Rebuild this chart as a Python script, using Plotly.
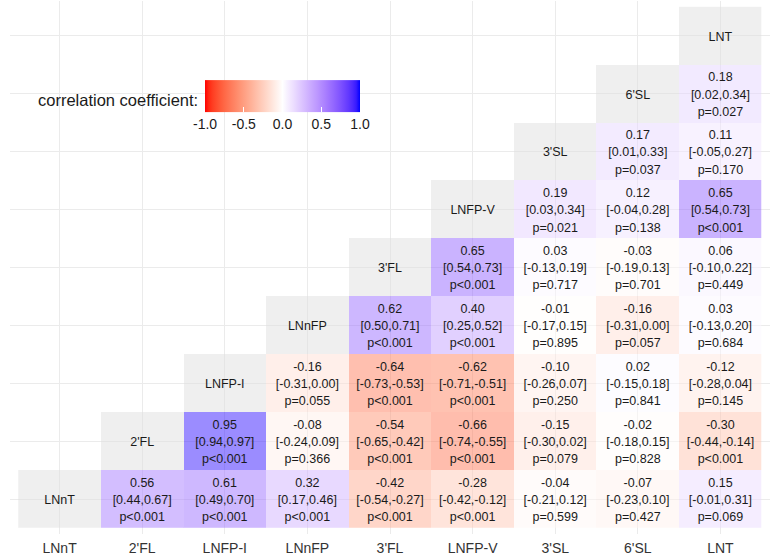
import plotly.graph_objects as go

names = ["LNnT", "2'FL", "LNFP-I", "LNnFP", "3'FL", "LNFP-V", "3'SL", "6'SL", "LNT"]

# one list per row (row i holds the cells for columns i+1 .. 8)
r_rows = [
    [0.56, 0.61, 0.32, -0.42, -0.28, -0.04, -0.07, 0.15],
    [0.95, -0.08, -0.54, -0.66, -0.15, -0.02, -0.30],
    [-0.16, -0.64, -0.62, -0.10, 0.02, -0.12],
    [0.62, 0.40, -0.01, -0.16, 0.03],
    [0.65, 0.03, -0.03, 0.06],
    [0.19, 0.12, 0.65],
    [0.17, 0.11],
    [0.18],
]
lo_rows = [
    [0.44, 0.49, 0.17, -0.54, -0.42, -0.21, -0.23, -0.01],
    [0.94, -0.24, -0.65, -0.74, -0.30, -0.18, -0.44],
    [-0.31, -0.73, -0.71, -0.26, -0.15, -0.28],
    [0.50, 0.25, -0.17, -0.31, -0.13],
    [0.54, -0.13, -0.19, -0.10],
    [0.03, -0.04, 0.54],
    [0.01, -0.05],
    [0.02],
]
hi_rows = [
    [0.67, 0.70, 0.46, -0.27, -0.12, 0.12, 0.10, 0.31],
    [0.97, 0.09, -0.42, -0.55, 0.02, 0.15, -0.14],
    [0.00, -0.53, -0.51, 0.07, 0.18, 0.04],
    [0.71, 0.52, 0.15, 0.00, 0.20],
    [0.73, 0.19, 0.13, 0.22],
    [0.34, 0.28, 0.73],
    [0.33, 0.27],
    [0.34],
]
p_rows = [
    ["p<0.001", "p<0.001", "p<0.001", "p<0.001", "p<0.001", "p=0.599", "p=0.427", "p=0.069"],
    ["p<0.001", "p=0.366", "p<0.001", "p<0.001", "p=0.079", "p=0.828", "p<0.001"],
    ["p=0.055", "p<0.001", "p<0.001", "p=0.250", "p=0.841", "p=0.145"],
    ["p<0.001", "p<0.001", "p=0.895", "p=0.057", "p=0.684"],
    ["p<0.001", "p=0.717", "p=0.701", "p=0.449"],
    ["p=0.021", "p=0.138", "p<0.001"],
    ["p=0.037", "p=0.170"],
    ["p=0.027"],
]
cbar_ticks = [-1.0, -0.5, 0.0, 0.5, 1.0]


# ---- Lab interpolation like ggplot's gradient2 (red - white - blue) ----
def srgb_to_lin(c):
    c = c / 255.0
    return c / 12.92 if c <= 0.04045 else ((c + 0.055) / 1.055) ** 2.4


def lin_to_srgb(c):
    c = max(0.0, min(1.0, c))
    v = 12.92 * c if c <= 0.0031308 else 1.055 * c ** (1 / 2.4) - 0.055
    return max(0, min(255, round(v * 255)))


WX, WY, WZ = 0.95047, 1.0, 1.08883


def rgb_to_lab(rgb):
    r, g, b = [srgb_to_lin(v) for v in rgb]
    X = 0.4124 * r + 0.3576 * g + 0.1805 * b
    Y = 0.2126 * r + 0.7152 * g + 0.0722 * b
    Z = 0.0193 * r + 0.1192 * g + 0.9505 * b

    def f(t):
        return t ** (1 / 3) if t > 216 / 24389 else (24389 / 27 * t + 16) / 116

    fx, fy, fz = f(X / WX), f(Y / WY), f(Z / WZ)
    return (116 * fy - 16, 500 * (fx - fy), 200 * (fy - fz))


def lab_to_rgb(lab):
    L, a, b = lab
    fy = (L + 16) / 116
    fx = fy + a / 500
    fz = fy - b / 200

    def finv(t):
        return t ** 3 if t ** 3 > 216 / 24389 else (116 * t - 16) / (24389 / 27)

    X, Y, Z = WX * finv(fx), WY * finv(fy), WZ * finv(fz)
    r = 3.2406 * X - 1.5372 * Y - 0.4986 * Z
    g = -0.9689 * X + 1.8758 * Y + 0.0415 * Z
    bb = 0.0557 * X - 0.2040 * Y + 1.0570 * Z
    return (lin_to_srgb(r), lin_to_srgb(g), lin_to_srgb(bb))


def mix(c1, c2, t):
    l1, l2 = rgb_to_lab(c1), rgb_to_lab(c2)
    return lab_to_rgb(tuple(l1[i] + (l2[i] - l1[i]) * t for i in range(3)))


RED, WHITE, BLUE = (255, 0, 0), (255, 255, 255), (0, 0, 255)
N = 20
scale = []
for k in range(N + 1):
    t = k / N
    c = mix(RED, WHITE, t)
    scale.append([t / 2, "rgb(%d,%d,%d)" % c])
for k in range(1, N + 1):
    t = k / N
    c = mix(WHITE, BLUE, t)
    scale.append([0.5 + t / 2, "rgb(%d,%d,%d)" % c])

n = len(names)
z = [[None] * n for _ in range(n)]
diag_z = [[None] * n for _ in range(n)]
tx_r, ty_r, tt_r = [], [], []
tt_ci, tt_p = [], []
for i in range(n):
    diag_z[i][i] = 1
    if i < len(r_rows):
        for k, rv in enumerate(r_rows[i]):
            j = i + 1 + k
            z[i][j] = rv
            tx_r.append(j)
            ty_r.append(i)
            tt_r.append("%.2f" % rv)
            tt_ci.append("[%.2f,%.2f]" % (lo_rows[i][k], hi_rows[i][k]))
            tt_p.append(p_rows[i][k])

idx = list(range(n))
fig = go.Figure()
fig.add_trace(go.Heatmap(
    z=diag_z, x=idx, y=idx,
    colorscale=[[0, "#e0e0e0"], [1, "#e0e0e0"]],
    showscale=False, opacity=0.5, hoverinfo="skip",
))
fig.add_trace(go.Heatmap(
    z=z, x=idx, y=idx, zmin=-1, zmax=1,
    colorscale=scale, showscale=False, opacity=0.5, hoverinfo="skip",
))

FONT = "Liberation Sans, Arial, sans-serif"
tfont = dict(family=FONT, size=12.5, color="#1a1a1a")
off = 0.295
dy = -0.03  # small visual nudge of the cell text
fig.add_trace(go.Scatter(x=tx_r, y=[v + off + dy for v in ty_r], text=tt_r, mode="text",
                         textfont=tfont, hoverinfo="skip", showlegend=False))
fig.add_trace(go.Scatter(x=tx_r, y=[v + dy for v in ty_r], text=tt_ci, mode="text",
                         textfont=tfont, hoverinfo="skip", showlegend=False))
fig.add_trace(go.Scatter(x=tx_r, y=[v - off + dy for v in ty_r], text=tt_p, mode="text",
                         textfont=tfont, hoverinfo="skip", showlegend=False))
fig.add_trace(go.Scatter(x=idx, y=[v + dy for v in idx], text=names, mode="text",
                         textfont=tfont, hoverinfo="skip", showlegend=False))

# legend colour bar
fig.add_trace(go.Scatter(
    x=[None], y=[None], mode="markers", showlegend=False, hoverinfo="skip",
    marker=dict(color=[0], cmin=-1, cmax=1, colorscale=scale, showscale=True,
                colorbar=dict(
                    orientation="h", x=0.3586, xanchor="center", y=0.797, yanchor="middle",
                    len=155, lenmode="pixels", thickness=32, thicknessmode="pixels",
                    outlinewidth=0, tickvals=cbar_ticks,
                    ticktext=["%.1f" % v for v in cbar_ticks],
                    ticks="inside", ticklen=5, tickcolor="white",
                    tickfont=dict(family=FONT, size=14, color="#1a1a1a"),
                    xpad=0, ypad=0,
                )),
))

fig.add_annotation(text="correlation coefficient:", xref="paper", yref="paper",
                   x=(200 - 10) / 760, y=0.814, xanchor="right", yanchor="middle",
                   showarrow=False, font=dict(family=FONT, size=16.5, color="#1a1a1a"))

fig.update_xaxes(range=[-0.6, 8.6], tickvals=idx, ticktext=names, showgrid=True,
                 gridcolor="#ebebeb", gridwidth=1, zeroline=False, showline=False,
                 tickfont=dict(family=FONT, size=14, color="#333333"), ticks="",
                 ticklabelstandoff=4)
fig.update_yaxes(range=[-0.6, 8.6], tickvals=idx, showticklabels=False, showgrid=True,
                 gridcolor="#ebebeb", gridwidth=1, zeroline=False, showline=False, ticks="")
fig.update_layout(width=777, height=560, margin=dict(l=10, r=7, t=1, b=26),
                  plot_bgcolor="white", paper_bgcolor="white", showlegend=False)
fig.write_html("out.html", config={"displayModeBar": False},
               post_script="document.body.style.margin='0';")
